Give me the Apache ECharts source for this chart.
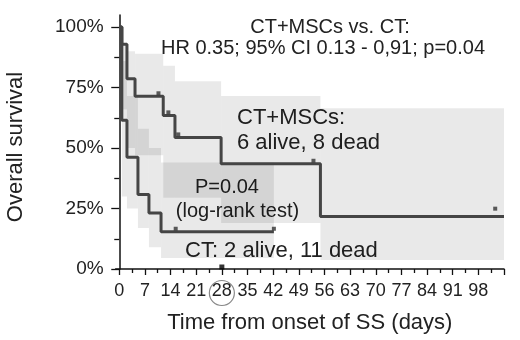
<!DOCTYPE html>
<html>
<head>
<meta charset="utf-8">
<script src="https://cdn.jsdelivr.net/npm/echarts@6/dist/echarts.min.js"></script>
<style>
  html, body { margin: 0; padding: 0; background: #fff; }
  #chart { width: 520px; height: 340px; }
</style>
</head>
<body>
<div id="chart"></div>
<script>
// CT+MSCs group: step times (days), survival %, 95% CI bounds
var mscTimes = [0, 0.7, 2.1, 4.3, 12, 15.2, 27.8, 54.9];
var mscSurv = [100, 92.9, 78.6, 71.4, 63.5, 54.4, 43.5, 21.7];
var mscUpper = [100, 93, 90, 89, 84, 77.6, 71.5, 66.5];
var mscLower = [100, 66, 50, 47, 29.5, 29.5, 19, 3.7];
var mscEnd = 105;
var mscCensor = [[10.7, 71.4], [13.4, 63.5], [16.1, 54.4], [53, 43.5], [102.6, 23.7]];

// CT group
var ctTimes = [0, 0.7, 2.1, 5.1, 8.1, 11.4];
var ctSurv = [100, 61.5, 46.2, 30.8, 23.1, 15.4];
var ctUpper = [100, 86, 71.5, 58, 50, 44];
var ctLower = [100, 30, 25, 17, 9, 4.5];
var ctEnd = 42.2;
var ctCensor = [[15.4, 15.4], [42.2, 15.4]];

// axis ticks / labels
var xLabels = [0, 7, 14, 21, 28, 35, 42, 49, 56, 63, 70, 77, 84, 91, 98, 105];
var xMinor = [3.5, 10.5, 17.5, 24.5, 31.5, 38.5, 45.5, 52.5, 59.5, 66.5, 73.5, 80.5, 87.5, 94.5, 101.5];
var yLabels = [0, 25, 50, 75, 100];
var yMinor = [12.5, 37.5, 62.5, 87.5];
var markedDay = [[28, 0]];

var TXT = '#222';
var LINE = '#454545';
var FONT = 'Liberation Sans, Arial, sans-serif';

function curve(times, surv, end) {
  var pts = times.map(function (t, i) { return [t, surv[i]]; });
  pts.push([end, surv[surv.length - 1]]);
  return pts;
}

function band(times, lower, upper, end) {
  var out = [];
  for (var i = 1; i < times.length; i++) {
    var t1 = i + 1 < times.length ? times[i + 1] : end;
    out.push([times[i], t1, lower[i], upper[i]]);
  }
  return out;
}

function bandItem(params, api) {
  var a = api.coord([api.value(0), api.value(3)]);
  var b = api.coord([api.value(1), api.value(2)]);
  return {
    type: 'rect',
    shape: { x: a[0], y: a[1], width: b[0] - a[0], height: b[1] - a[1] },
    style: { fill: 'rgba(0,0,0,0.088)' }
  };
}

function txt(id, x, y, text, size, align, rot) {
  return {
    type: 'text', id: id, x: x, y: y, rotation: rot || 0,
    style: {
      text: text, fill: TXT, font: size + 'px ' + FONT,
      textAlign: align || 'center', textVerticalAlign: 'middle'
    }
  };
}

var chart = echarts.init(document.getElementById('chart'), null, { renderer: 'canvas' });

var option = {
  animation: false,
  backgroundColor: '#fff',
  grid: { left: 115.6, right: 16, top: 15, bottom: 71 },
  xAxis: [
    {
      type: 'value', min: -1, max: 105,
      name: 'Time from onset of SS (days)',
      nameLocation: 'middle', nameGap: 43,
      nameTextStyle: { color: TXT, fontSize: 22, fontFamily: FONT },
      axisLine: { show: true, lineStyle: { color: '#111', width: 1.5 } },
      axisTick: { show: true, customValues: xLabels, length: 6, lineStyle: { color: '#111', width: 1.3 } },
      axisLabel: {
        customValues: xLabels.slice(0, 15), color: TXT, fontSize: 18, fontFamily: FONT, margin: 13
      },
      splitLine: { show: false }
    },
    {
      type: 'value', min: -1, max: 105, position: 'bottom',
      axisLine: { show: false },
      axisTick: { show: true, customValues: xMinor, length: 4, lineStyle: { color: '#111', width: 1.3 } },
      axisLabel: { show: false },
      splitLine: { show: false }
    }
  ],
  yAxis: [
    {
      type: 'value', min: 0, max: 105,
      axisLine: { show: true, lineStyle: { color: '#111', width: 1.5 } },
      axisTick: { show: true, customValues: yLabels, length: 8, lineStyle: { color: '#111', width: 1.3 } },
      axisLabel: {
        customValues: yLabels, formatter: '{value}%', color: TXT, fontSize: 19, fontFamily: FONT, margin: 12
      },
      splitLine: { show: false }
    },
    {
      type: 'value', min: 0, max: 105, position: 'left',
      axisLine: { show: false },
      axisTick: { show: true, customValues: yMinor, length: 5, lineStyle: { color: '#111', width: 1.3 } },
      axisLabel: { show: false },
      splitLine: { show: false }
    }
  ],
  series: [
    {
      type: 'custom', renderItem: bandItem, clip: true,
      encode: { x: [0, 1], y: [2, 3] },
      data: band(mscTimes, mscLower, mscUpper, mscEnd), z: 1
    },
    {
      type: 'custom', renderItem: bandItem, clip: true,
      encode: { x: [0, 1], y: [2, 3] },
      data: band(ctTimes, ctLower, ctUpper, ctEnd), z: 1
    },
    {
      type: 'line', step: 'end', symbol: 'none', z: 3,
      lineStyle: { color: LINE, width: 3 },
      data: curve(mscTimes, mscSurv, mscEnd)
    },
    {
      type: 'line', step: 'end', symbol: 'none', z: 3,
      lineStyle: { color: LINE, width: 3 },
      data: curve(ctTimes, ctSurv, ctEnd)
    },
    {
      type: 'scatter', symbol: 'rect', symbolSize: [4, 4], symbolOffset: [0, -3], z: 4,
      itemStyle: { color: '#333' }, clip: false,
      data: mscCensor.concat(ctCensor)
    },
    {
      type: 'scatter', symbol: 'rect', symbolSize: [5, 5], symbolOffset: [0, -2], z: 5,
      itemStyle: { color: '#000' }, clip: false,
      data: markedDay
    }
  ],
  graphic: [
    txt('t1', 330, 27, 'CT+MSCs vs. CT:', 20),
    txt('t2', 323, 48, 'HR 0.35; 95% CI 0.13 - 0,91; p=0.04', 20),
    txt('t3', 237, 118, 'CT+MSCs:', 22, 'left'),
    txt('t4', 237, 143, '6 alive, 8 dead', 22, 'left'),
    txt('t5', 227, 187, 'P=0.04', 20),
    txt('t6', 237.5, 211, '(log-rank test)', 20),
    txt('t7', 185, 251, 'CT: 2 alive, 11 dead', 22, 'left'),
    txt('yname', 16, 147, 'Overall survival', 22, 'center', Math.PI / 2)
  ]
};

chart.setOption(option);

// circle around the "28" tick label
var p28 = chart.convertToPixel({ xAxisIndex: 0, yAxisIndex: 0 }, markedDay[0]);
chart.setOption({
  graphic: [{
    type: 'circle', id: 'c28',
    shape: { cx: p28[0], cy: p28[1] + 24, r: 12.5 },
    style: { fill: 'none', stroke: '#888', lineWidth: 1.2 }
  }]
});
</script>
</body>
</html>
